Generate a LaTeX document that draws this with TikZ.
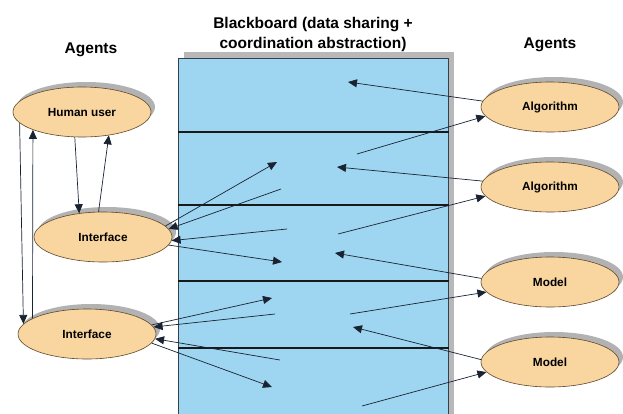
\documentclass[tikz,border=0pt]{standalone}
\usepackage{fontspec}
\setmainfont{Liberation Sans}
\usepackage{tikz}
\usetikzlibrary{shapes,positioning,arrows.meta,shadows}

\definecolor{agentfill}{RGB}{249,214,160}
\definecolor{agentline}{RGB}{95,72,40}
\definecolor{boardfill}{RGB}{158,213,240}
\definecolor{boardline}{RGB}{50,65,80}
\definecolor{arrowline}{RGB}{25,35,50}

\begin{document}
\begin{tikzpicture}[
		x=1pt,
		y=-1pt,
		agent/.style={
			ellipse,
			draw=agentline,
			fill=agentfill,
			line width=0.6pt,
			minimum width=138pt,
			minimum height=50pt,
			inner sep=0pt,
			font=\bfseries\fontsize{11.8}{14}\selectfont,
			drop shadow={shadow xshift=4pt, shadow yshift=5pt, fill=black!30, opacity=1}
			},
		board/.style={
			rectangle,
			draw=boardline,
			fill=boardfill,
			line width=0.6pt,
			minimum width=270pt,
			minimum height=362pt,
			inner sep=0pt,
			drop shadow={shadow xshift=6pt, shadow yshift=6pt, fill=black!28, opacity=1}
			},
		title/.style={
			align=center,
			inner sep=0pt,
			font=\bfseries\fontsize{15.5}{20}\selectfont
			},
		divider/.style={
			draw=black!90,
			line width=2pt
			},
		line/.style={
			draw=arrowline,
			line width=0.7pt,
			-{Triangle[length=9pt,width=8pt]}
			}]
	    \useasboundingbox (0,0) rectangle (623,413);

	    % Place nodes
	    \node [board, anchor=north west] (bb) at (178,58) {};
	    \node [title] (bbtitle) at (313,34) {Blackboard (data sharing +\\coordination abstraction)};
	    \node [title, anchor=base] (leftagents) at (91,53) {Agents};
	    \node [title, anchor=base] (rightagents) at (550,48) {Agents};

	    \node [agent] (hum) at (82,112) {Human user};
	    \node [agent] (if1) at (103,237) {Interface};
	    \node [agent] (if2) at (87,334) {Interface};
	    \node [agent] (alg1) at (550,107) {Algorithm};
	    \node [agent] (alg2) at (550,187) {Algorithm};
	    \node [agent] (mod1) at (550,282) {Model};
	    \node [agent] (mod2) at (550,362) {Model};

	    % Blackboard regions
	    \path [divider, line width=1.2pt] (bb.west |- 0,132) -- (bb.east |- 0,132);
	    \path [divider] (bb.west |- 0,205) -- (bb.east |- 0,205);
	    \path [divider] (bb.west |- 0,281) -- (bb.east |- 0,281);
	    \path [divider] (bb.west |- 0,348) -- (bb.east |- 0,348);

	    % Points on the blackboard
	    \coordinate (post1) at (277,162);
	    \coordinate (post2) at (282,262);
	    \coordinate (post3) at (272,298);
	    \coordinate (post4) at (272,387);
	    \coordinate (post5) at (348,82);
	    \coordinate (post6) at (337,167);
	    \coordinate (post7) at (335,253);
	    \coordinate (post8) at (353,327);
	    \coordinate (read1) at (281,189);
	    \coordinate (read2) at (287,229);
	    \coordinate (read3) at (275,314);
	    \coordinate (read4) at (280,360);
	    \coordinate (read5) at (357,154);
	    \coordinate (read6) at (338,234);
	    \coordinate (read7) at (350,314);
	    \coordinate (read8) at (362,406);

	    % Draw edges
	    \path [line] (hum.190) -- (if2.171);
	    \path [line] (if2.164) -- (hum.200);
	    \path [line] (hum.254) -- (if1.135);
	    \path [line] (if1.100) -- (hum.-41);

	    \path [line] (if1.10) -- (post1);
	    \path [line] (read1) -- (if1.7);
	    \path [line] (read2) -- (if1.-3);
	    \path [line] (if1.-7) -- (post2);
	    \path [line] (if2.8) -- (post3);
	    \path [line] (read3) -- (if2.6);
	    \path [line] (read4) -- (if2.-4);
	    \path [line] (if2.-8) -- (post4);

	    \path [line] (alg1.175) -- (post5);
	    \path [line] (read5) -- (alg1.188);
	    \path [line] (alg2.175) -- (post6);
	    \path [line] (read6) -- (alg2.188);
	    \path [line] (mod1.177) -- (post7);
	    \path [line] (read7) -- (mod1.189);
	    \path [line] (mod2.178) -- (post8);
	    \path [line] (read8) -- (mod2.189);
	\end{tikzpicture}
\end{document}
